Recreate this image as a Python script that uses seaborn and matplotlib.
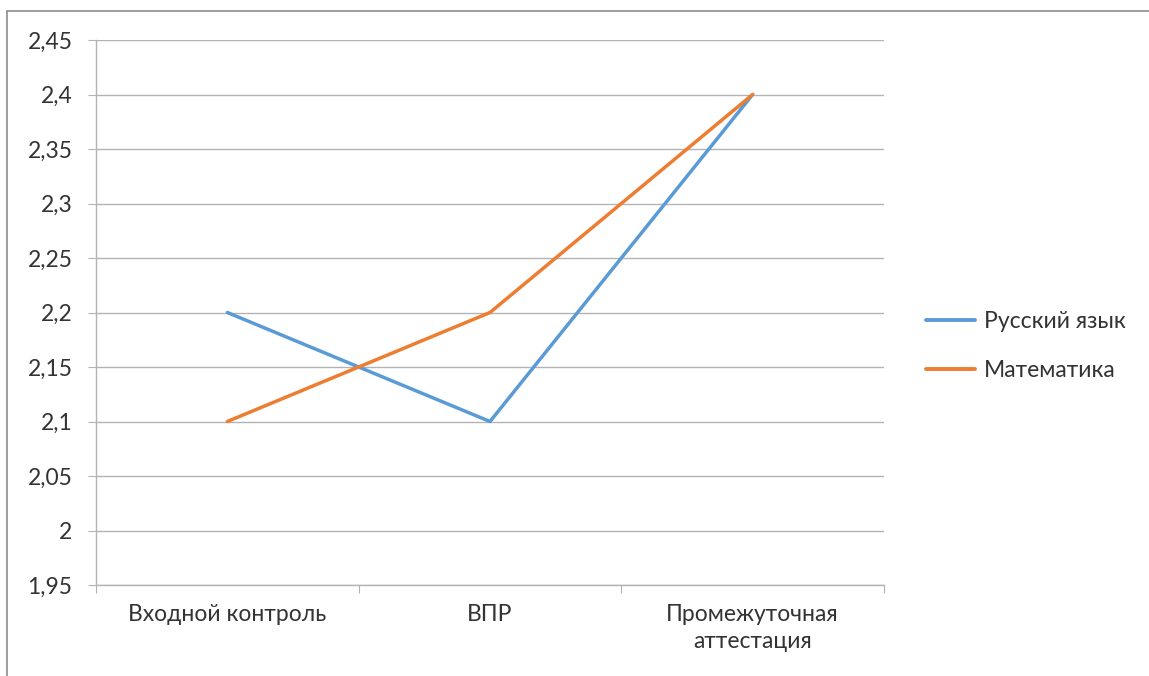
import matplotlib.pyplot as plt
import pandas as pd
import seaborn as sns
from matplotlib.lines import Line2D
from matplotlib.ticker import FuncFormatter, FixedLocator

# данные диаграммы
CATEGORIES = ["Входной контроль", "ВПР", "Промежуточная\nаттестация"]
RUSSIAN = [2.2, 2.1, 2.4]
MATH = [2.1, 2.2, 2.4]
SERIES_NAMES = ["Русский язык", "Математика"]
COLORS = ["#5B9BD5", "#ED7D31"]
Y_TICKS = [1.95, 2.0, 2.05, 2.1, 2.15, 2.2, 2.25, 2.3, 2.35, 2.4, 2.45]


def build_frame():
    rows = []
    for name, values in zip(SERIES_NAMES, [RUSSIAN, MATH]):
        for i, v in enumerate(values):
            rows.append({"pos": i, "value": v, "series": name})
    return pd.DataFrame(rows)


def main():
    sns.set_style("white")
    plt.rcParams["font.family"] = ["Lato", "DejaVu Sans"]

    df = build_frame()
    fig = plt.figure(figsize=(11.49, 6.76), dpi=100)
    ax = fig.add_axes([96 / 1149, 1 - 585 / 676, (884 - 96) / 1149, (585 - 40) / 676])

    grid_color = "#B3B3B3"
    text_color = "#333333"
    fs = 16.5
    lw = 2.5
    sns.lineplot(
        data=df, x="pos", y="value", hue="series",
        palette=dict(zip(SERIES_NAMES, COLORS)),
        linewidth=lw, ax=ax, legend=False, zorder=3,
    )

    ax.set_xlim(-0.5, 2.5)
    ax.set_ylim(1.95, 2.45)
    ax.yaxis.set_major_locator(FixedLocator(Y_TICKS))
    ax.yaxis.set_major_formatter(
        FuncFormatter(lambda v, p: f"{round(v, 2):g}".replace(".", ","))
    )
    ax.grid(axis="y", color=grid_color, linewidth=1)
    ax.set_axisbelow(True)

    # границы категорий и подписи по центрам
    ax.set_xticks([-0.5, 0.5, 1.5, 2.5])
    ax.set_xticklabels([])
    ax.set_xticks([0, 1, 2], minor=True)
    ax.set_xticklabels(CATEGORIES, minor=True, fontsize=fs, color=text_color,
                       linespacing=1.35)
    ax.tick_params(axis="x", which="major", length=6, color=grid_color, direction="out", bottom=True)
    ax.tick_params(axis="x", which="minor", length=0, pad=14)
    ax.tick_params(axis="y", length=6, color=grid_color, direction="out", left=True,
                   pad=11, labelsize=fs, labelcolor=text_color)

    ax.set_xlabel("")
    ax.set_ylabel("")
    for side in ["top", "right"]:
        ax.spines[side].set_visible(False)
    for side in ["left", "bottom"]:
        ax.spines[side].set_color(grid_color)
        ax.spines[side].set_linewidth(1)

    handles = [Line2D([0], [0], color=c, linewidth=lw + 0.3) for c in COLORS]
    fig.legend(
        handles, SERIES_NAMES, loc="center left",
        bbox_to_anchor=(905 / 1149, 1 - 346 / 676), frameon=False,
        fontsize=fs, handlelength=2.15, handletextpad=0.4, labelspacing=1.2,
        labelcolor=text_color,
    )

    # рамка области диаграммы
    border = "#8C8C8C"
    fig.add_artist(Line2D([7 / 1149, 7 / 1149], [0, 1 - 11 / 676], color=border, linewidth=1.2))
    fig.add_artist(Line2D([7 / 1149, 1], [1 - 11 / 676, 1 - 11 / 676], color=border, linewidth=1.2))

    fig.savefig("out.png", dpi=100)
    plt.close(fig)


if __name__ == "__main__":
    main()
